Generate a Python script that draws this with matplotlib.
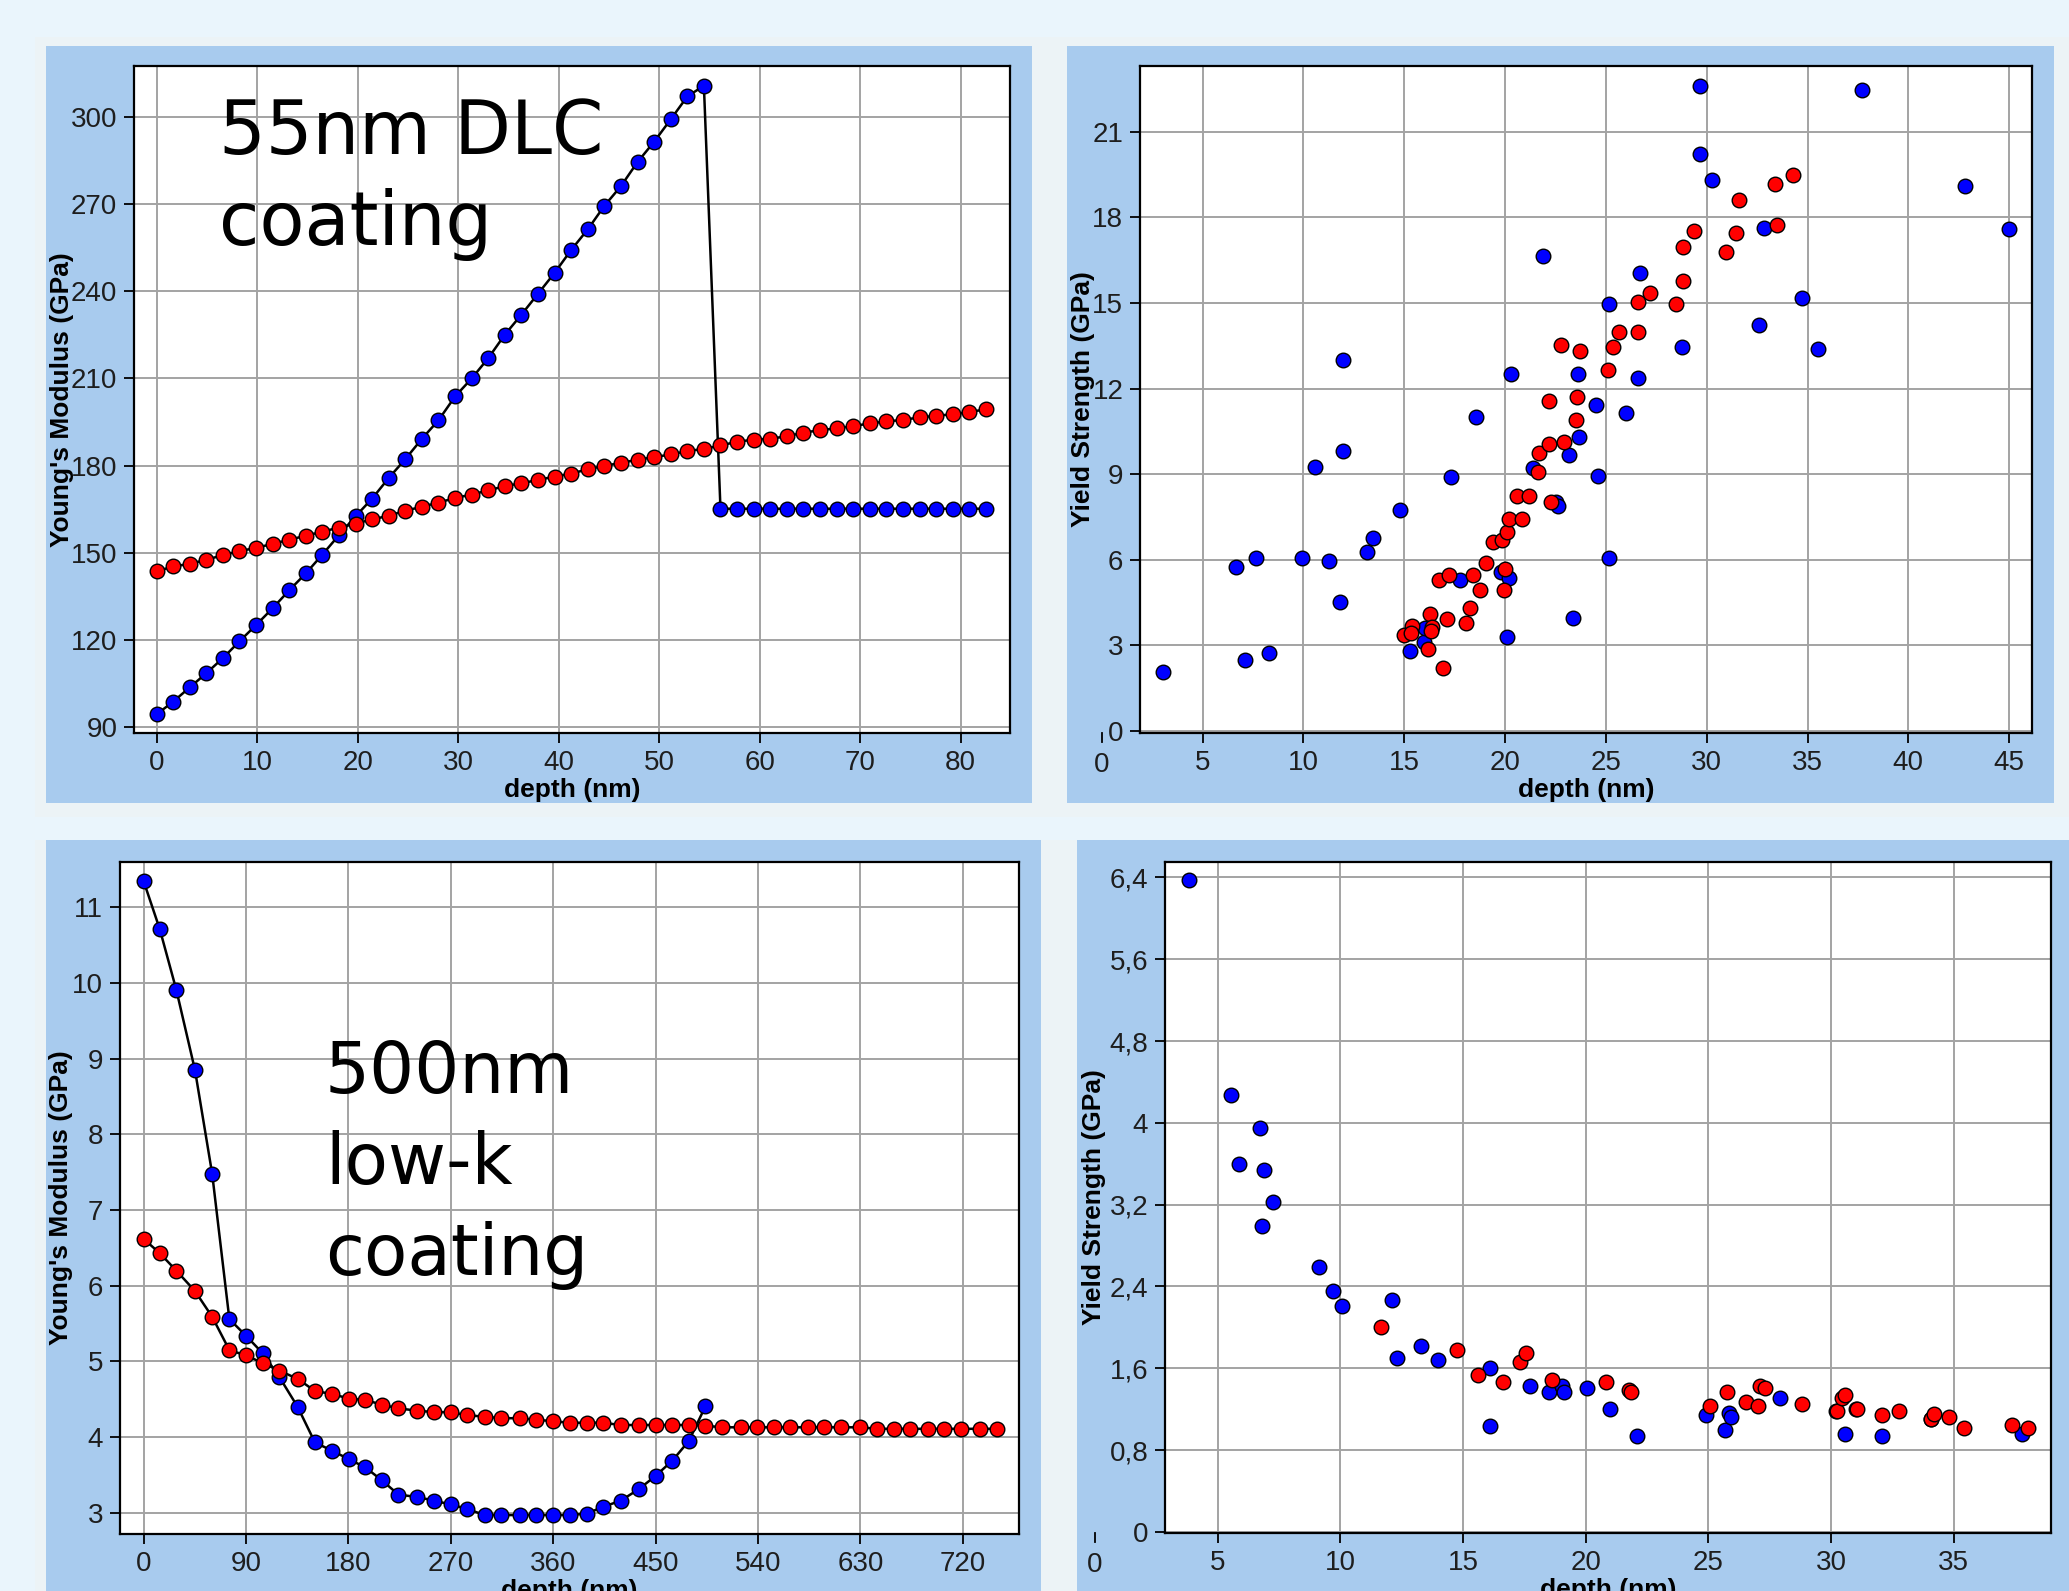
import matplotlib
matplotlib.use("Agg")
import matplotlib.pyplot as plt
import matplotlib.transforms as mtransforms
from matplotlib.patches import Rectangle

# ---- data ----
# 55nm DLC coating: Young's modulus vs depth
dlc_depth = [0, 1.65, 3.3, 4.95, 6.6, 8.25, 9.9, 11.55, 13.2, 14.85, 16.5, 18.15, 19.8,
             21.45, 23.1, 24.75, 26.4, 28.05, 29.7, 31.35, 33.0, 34.65, 36.3, 37.95, 39.6,
             41.25, 42.9, 44.55, 46.2, 47.85, 49.5, 51.15, 52.8, 54.45, 56.1, 57.75, 59.4,
             61.05, 62.7, 64.35, 66.0, 67.65, 69.3, 70.95, 72.6, 74.25, 75.9, 77.55, 79.2,
             80.85, 82.5]
dlc_blue = [94.2, 98.6, 103.5, 108.4, 113.6, 119.4, 125.0, 130.8, 137.0, 142.8, 149.3,
            156.0, 162.5, 168.6, 175.7, 182.2, 189.2, 195.6, 203.8, 210.0, 217.0, 225.1,
            232.0, 239.2, 246.4, 254.3, 261.4, 269.5, 276.3, 284.6, 291.6, 299.3, 307.2,
            310.9, 165.1, 165.1, 165.1, 165.1, 165.1, 165.1, 165.1, 165.1, 165.1, 165.1,
            165.1, 165.1, 165.1, 165.1, 165.1, 165.1, 165.1]
dlc_red = [143.5, 145.2, 146.1, 147.5, 149.1, 150.5, 151.6, 153.0, 154.4, 155.8, 157.2,
           158.6, 160.0, 161.4, 162.7, 164.4, 165.8, 167.2, 168.8, 170.0, 171.4, 172.9,
           173.9, 175.0, 176.2, 177.2, 178.7, 179.9, 180.9, 182.0, 182.9, 183.8, 185.0,
           185.7, 186.9, 188.2, 188.9, 189.2, 190.1, 191.3, 192.2, 192.8, 193.6, 194.5,
           195.2, 195.7, 196.6, 197.1, 197.7, 198.4, 199.4]

# 55nm DLC coating: yield strength scatter
ys_dlc_blue_x = [3.05, 6.64, 7.09, 7.67, 8.29, 9.95, 10.57, 11.25, 11.81, 11.97, 11.97,
                 13.14, 13.47, 14.77, 15.29, 15.97, 16.05, 17.34, 17.76, 18.55, 19.81, 20.1,
                 20.2, 20.3, 21.41, 21.86, 22.55, 22.61, 23.16, 23.39, 23.62, 23.68, 24.53,
                 24.63, 25.15, 25.15, 25.99, 26.58, 26.68, 28.76, 29.67, 29.67, 30.26, 32.57,
                 32.86, 34.72, 35.53, 37.68, 42.82, 44.97]
ys_dlc_blue_y = [2.06, 5.76, 2.49, 6.06, 2.72, 6.05, 9.25, 5.97, 4.53, 9.82, 13.02,
                 6.26, 6.78, 7.73, 2.79, 3.11, 3.6, 8.89, 5.30, 11.0, 5.56, 3.29,
                 5.38, 12.52, 9.21, 16.64, 8.01, 7.87, 9.68, 3.95, 12.52, 10.32, 11.41,
                 8.94, 14.97, 6.06, 11.13, 12.36, 16.06, 13.45, 22.61, 20.21, 19.32, 14.24,
                 17.64, 15.19, 13.38, 22.47, 19.12, 17.58]
ys_dlc_red_x = [15.0, 15.39, 15.35, 16.2, 16.3, 16.4, 16.33, 16.72, 16.92, 17.11, 17.24,
                18.06, 18.25, 18.41, 18.77, 19.06, 19.39, 19.85, 19.94, 20.0, 20.1, 20.2,
                20.59, 20.82, 21.21, 21.63, 21.67, 22.16, 22.16, 22.28, 22.8, 22.9, 23.52,
                23.58, 23.72, 25.12, 25.34, 25.64, 26.58, 26.58, 27.2, 28.5, 28.82, 28.82,
                29.35, 30.97, 31.43, 31.62, 33.38, 33.48, 34.29]
ys_dlc_red_y = [3.36, 3.67, 3.42, 2.88, 4.11, 3.63, 3.51, 5.30, 2.20, 3.94, 5.46,
                3.77, 4.31, 5.46, 4.94, 5.90, 6.64, 6.71, 4.96, 5.69, 6.99, 7.42,
                8.25, 7.42, 8.25, 9.09, 9.75, 10.05, 11.57, 8.01, 13.54, 10.13, 10.91,
                11.72, 13.31, 12.65, 13.45, 13.97, 15.04, 13.97, 15.37, 14.97, 15.78, 16.96,
                17.51, 16.80, 17.46, 18.60, 19.19, 17.73, 19.48]

# 500nm low-k coating: Young's modulus vs depth
lowk_depth = [0, 14.3, 28.8, 45.2, 60.3, 75.4, 90, 104.6, 119.1, 135.4, 150.6, 165.7,
              180.3, 194.9, 209.4, 224, 240.3, 255.5, 270, 284.6, 299.7, 314.3, 330.6,
              345.2, 359.8, 374.9, 389.5, 404.1, 419.2, 435, 450.1, 464.7, 479.2, 493.8,
              508.4, 524.7, 539.2, 553.8, 568.4, 583.5, 598.1, 613.2, 630, 644.7, 659.3,
              673.8, 689, 703.5, 718.1, 735, 749.6]
lowk_blue = [11.35, 10.71, 9.91, 8.85, 7.48, 5.56, 5.34, 5.11, 4.80, 4.40, 3.93, 3.82,
             3.71, 3.60, 3.43, 3.24, 3.21, 3.16, 3.11, 3.05, 2.97, 2.97, 2.97, 2.97,
             2.97, 2.97, 2.99, 3.08, 3.16, 3.31, 3.49, 3.69, 3.95, 4.41]
lowk_red = [6.62, 6.43, 6.20, 5.93, 5.59, 5.15, 5.08, 4.98, 4.88, 4.77, 4.61, 4.57,
            4.51, 4.49, 4.43, 4.38, 4.35, 4.33, 4.33, 4.29, 4.27, 4.25, 4.25, 4.23,
            4.21, 4.19, 4.19, 4.19, 4.16, 4.16, 4.16, 4.16, 4.16, 4.15, 4.13, 4.13,
            4.13, 4.13, 4.13, 4.13, 4.13, 4.13, 4.13, 4.11, 4.11, 4.11, 4.11, 4.11,
            4.11, 4.11, 4.11]

# 500nm low-k coating: yield strength scatter
ys_lowk_blue_x = [3.85, 5.54, 5.88, 6.74, 6.90, 6.82, 7.25, 9.12, 9.71, 10.06, 12.09,
                  12.33, 13.30, 13.99, 16.11, 16.11, 17.74, 18.49, 19.03, 19.11, 20.04,
                  20.98, 22.1, 24.89, 25.66, 25.82, 25.93, 27.91, 30.19, 30.56, 31.02,
                  32.09, 34.07, 37.76]
ys_lowk_blue_y = [6.37, 4.27, 3.60, 3.95, 3.54, 2.99, 3.23, 2.59, 2.36, 2.21, 2.27,
                  1.70, 1.82, 1.68, 1.60, 1.04, 1.43, 1.37, 1.43, 1.37, 1.41,
                  1.20, 0.94, 1.14, 1.00, 1.16, 1.12, 1.31, 1.18, 0.96, 1.20,
                  0.94, 1.10, 0.96]
ys_lowk_red_x = [11.66, 14.74, 15.63, 16.64, 17.31, 17.58, 18.62, 20.82, 21.76, 21.84,
                 25.08, 25.74, 26.52, 27.03, 27.11, 27.30, 28.82, 30.24, 30.46, 30.56,
                 31.07, 32.09, 32.76, 34.07, 34.2, 34.82, 35.41, 37.36, 38.03]
ys_lowk_red_y = [2.00, 1.78, 1.53, 1.47, 1.66, 1.75, 1.49, 1.47, 1.39, 1.37,
                 1.23, 1.37, 1.27, 1.23, 1.43, 1.41, 1.25, 1.18, 1.31, 1.34,
                 1.20, 1.14, 1.18, 1.10, 1.15, 1.12, 1.02, 1.05, 1.02]

dlc_mod_xticks = [0, 10, 20, 30, 40, 50, 60, 70, 80]
dlc_mod_yticks = [90, 120, 150, 180, 210, 240, 270, 300]
dlc_ys_xticks = [5, 10, 15, 20, 25, 30, 35, 40, 45]
dlc_ys_yticks = [0, 3, 6, 9, 12, 15, 18, 21]
lowk_mod_xticks = [0, 90, 180, 270, 360, 450, 540, 630, 720]
lowk_mod_yticks = [3, 4, 5, 6, 7, 8, 9, 10, 11]
lowk_ys_xticks = [5, 10, 15, 20, 25, 30, 35]
lowk_ys_yticks = [0, 0.8, 1.6, 2.4, 3.2, 4.0, 4.8, 5.6, 6.4]
lowk_ys_ylabels = ["0", "0,8", "1,6", "2,4", "3,2", "4", "4,8", "5,6", "6,4"]

# ---- layout (pixels) ----
W, H = 2069, 1591
PANEL = "#A8CBEE"
HALO = "#ECF3F6"
TICK_FONT = ["Liberation Sans Narrow", "Liberation Sans", "DejaVu Sans"]
LABEL_FONT = ["Liberation Sans", "DejaVu Sans"]

plt.rcParams["font.family"] = TICK_FONT

fig = plt.figure(figsize=(W / 100, H / 100), dpi=100, facecolor="#EAF5FC")


def fig_rect(box, color, z):
    x0, y0, x1, y1 = box
    fig.add_artist(Rectangle((x0 / W, 1 - y1 / H), (x1 - x0) / W, (y1 - y0) / H,
                             transform=fig.transFigure, facecolor=color,
                             edgecolor="none", zorder=z))


def make_panel(bg, box, xlim, ylim, xticks, yticks, ylabel, ylab_right):
    fig_rect(bg, PANEL, -1)
    x0, y0, x1, y1 = box
    ax = fig.add_axes([x0 / W, 1 - y1 / H, (x1 - x0) / W, (y1 - y0) / H])
    ax.set_facecolor("white")
    ax.set_xlim(*xlim)
    ax.set_ylim(*ylim)
    ax.set_xticks(xticks)
    ax.set_yticks(yticks)
    ax.grid(True, color="#A3A3A3", lw=1.4)
    ax.set_axisbelow(True)
    for s in ax.spines.values():
        s.set_linewidth(1.6)
        s.set_color("black")
    ax.tick_params(direction="out", length=7, width=1.3, pad=5, labelsize=20,
                   labelcolor="#1E1E1E")
    ax.set_xlabel("depth (nm)", fontsize=19, fontweight="bold", family=LABEL_FONT)
    ax.set_ylabel(ylabel, fontsize=19, fontweight="bold", family=LABEL_FONT)
    ax.xaxis.set_label_coords(0.5, -45 / (y1 - y0))
    ax.yaxis.set_label_coords((ylab_right - x0) / (x1 - x0), 0.5)
    return ax


def outside_zero(ax, box):
    # the "0" depth label sits left of the plotted range
    trans = mtransforms.blended_transform_factory(ax.transData, ax.transAxes)
    h = box[3] - box[1]
    ax.plot([0, 0], [0, -9 / h], transform=trans, clip_on=False, color="black", lw=1.3)
    ax.text(0, -19 / h, "0", transform=trans, ha="center", va="top", fontsize=20,
            color="#1E1E1E", clip_on=False)


def corner_text(ax, box, x_px, baselines, lines, size):
    x0, y0, x1, y1 = box
    for b, s in zip(baselines, lines):
        ax.text((x_px - x0) / (x1 - x0), (y1 - b) / (y1 - y0), s, transform=ax.transAxes,
                fontsize=size, family="DejaVu Sans", va="baseline", ha="left")


line_kw = dict(color="black", lw=1.8, marker="o", ms=10.5, mec="black", mew=1.0)
dot_kw = dict(ls="none", marker="o", ms=10.5, mec="black", mew=1.0)

# halos behind the panels
fig_rect((35, 37, W, 817), HALO, -2)
fig_rect((35, 840, W, H), HALO, -2)

# top left
box = (134, 66, 1010, 733)
ax = make_panel((46, 46, 1032, 803), box, (-2.24, 84.9), (87.8, 317.7),
                dlc_mod_xticks, dlc_mod_yticks, "Young's Modulus (GPa)", 74)
ax.plot(dlc_depth[:len(dlc_blue)], dlc_blue, mfc="#0000FF", **line_kw)
ax.plot(dlc_depth, dlc_red, mfc="#FF0000", **line_kw)
corner_text(ax, box, 219, [154, 245], ["55nm DLC", "coating"], 53)

# top right
box = (1140, 66, 2032, 733)
ax = make_panel((1067, 46, 2054, 803), box, (1.9, 46.13), (-0.07, 23.31),
                dlc_ys_xticks, dlc_ys_yticks, "Yield Strength (GPa)", 1095)
ax.plot(ys_dlc_blue_x, ys_dlc_blue_y, mfc="#0000FF", **dot_kw)
ax.plot(ys_dlc_red_x, ys_dlc_red_y, mfc="#FF0000", **dot_kw)
outside_zero(ax, box)

# bottom left
box = (120, 862, 1019, 1534)
ax = make_panel((46, 840, 1041, H + 5), box, (-20.7, 769.3), (2.72, 11.6),
                lowk_mod_xticks, lowk_mod_yticks, "Young's Modulus (GPa)", 73)
ax.plot(lowk_depth[:len(lowk_blue)], lowk_blue, mfc="#0000FF", **line_kw)
ax.plot(lowk_depth, lowk_red, mfc="#FF0000", **line_kw)
corner_text(ax, box, 325, [1093, 1184, 1275], ["500nm", "low-k", "coating"], 51)

# bottom right
box = (1165, 862, 2051, 1533)
ax = make_panel((1077, 840, W + 5, H + 5), box, (2.86, 38.96), (-0.01, 6.55),
                lowk_ys_xticks, lowk_ys_yticks, "Yield Strength (GPa)", 1106)
ax.set_yticklabels(lowk_ys_ylabels)
ax.plot(ys_lowk_blue_x, ys_lowk_blue_y, mfc="#0000FF", **dot_kw)
ax.plot(ys_lowk_red_x, ys_lowk_red_y, mfc="#FF0000", **dot_kw)
outside_zero(ax, box)

fig.savefig("out.png", dpi=100, facecolor=fig.get_facecolor())
